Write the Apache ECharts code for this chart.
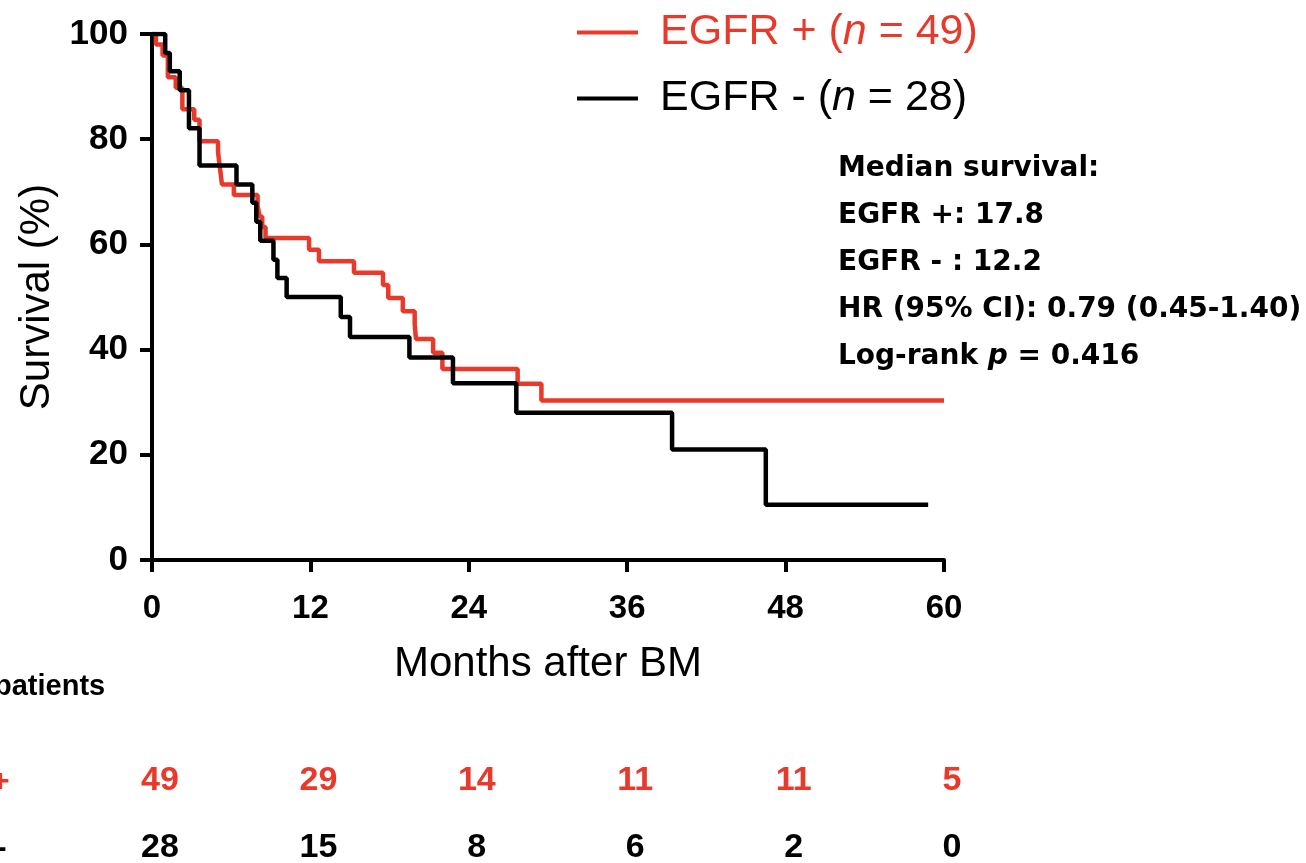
<!DOCTYPE html>
<html>
<head>
<meta charset="utf-8">
<script src="https://cdn.jsdelivr.net/npm/echarts@6/dist/echarts.min.js"></script>
<style>
html,body{margin:0;padding:0;background:#fff;}
#chart{width:1306px;height:863px;}
</style>
</head>
<body>
<div id="chart"></div>
<script>
// Kaplan-Meier curves: [months, survival %]
const egfrPos = [[0,100],[0.3,98.0],[0.8,95.9],[1.2,91.8],[1.8,89.8],[2.3,85.7],[3.2,83.7],[3.6,79.6],[5.0,77.6],[5.1,75.5],[5.2,73.5],[5.3,71.4],[6.2,69.4],[8.0,67.3],[8.15,65.3],[8.35,63.3],[8.6,61.2],[11.9,59.0],[12.65,56.8],[15.3,54.6],[17.5,52.3],[17.9,49.8],[19.0,47.3],[19.9,44.8],[20.0,42.0],[21.3,39.4],[22.0,36.3],[27.7,33.5],[29.5,30.3],[60,30.3]];
const egfrNeg = [[0,100],[1.0,96.4],[1.35,92.9],[2.1,89.3],[2.8,82.1],[3.6,75.0],[6.4,71.4],[7.6,67.9],[7.9,64.3],[8.2,60.7],[9.2,57.1],[9.5,53.6],[10.2,50.0],[14.3,46.2],[15.0,42.4],[19.5,38.5],[22.8,33.6],[27.6,28.0],[39.4,21.0],[46.5,10.5],[58.8,10.5]];
const riskMonths = [0,12,24,36,48,60];
const riskPos = [49,29,14,11,11,5];
const riskNeg = [28,15,8,6,2,0];
const riskRows = ['-','+'];
const yTicks = [0,20,40,60,80,100];
const xTicks = [0,12,24,36,48,60];
const annotation = ['Median survival:','EGFR +: 17.8','EGFR - : 12.2','HR (95% CI): 0.79 (0.45-1.40)'];

const RED = '#e8392b';
const BLACK = '#000000';
const FONT = 'Liberation Sans, Arial, Helvetica, sans-serif';
const WIDE = 'DejaVu Sans, Liberation Sans, sans-serif';
const NARROW = 'Liberation Sans Narrow, Liberation Sans, Arial, sans-serif';

const chart = echarts.init(document.getElementById('chart'), null, {renderer:'canvas'});

const annGraphics = annotation.map((t,i)=>({
  type:'text', left:838, top:155 + i*47,
  style:{text:t, font:'bold 28px '+WIDE, fill:BLACK}
}));
annGraphics.push({
  type:'text', left:838, top:155 + 4*47,
  style:{
    text:'{a|Log-rank }{i|p}{a| = 0.416}',
    rich:{
      a:{font:'bold 28px '+WIDE, fill:BLACK},
      i:{font:'italic bold 28px '+WIDE, fill:BLACK}
    }
  }
});

const option = {
  animation:false,
  backgroundColor:'#fff',
  grid:[
    {left:152, top:34, right:362, bottom:303, containLabel:false},
    {left:152, top:781, right:362, height:67, containLabel:false}
  ],
  legend:{
    data:[{name:'EGFR +'},{name:'EGFR -'}],
    orient:'vertical', left:572, top:6,
    itemWidth:61, itemHeight:4, itemGap:23,
    icon:'rect',
    formatter:function(name){
      return name==='EGFR +' ? '{tr|EGFR + (}{ir|n}{tr| = 49)}' : '{tb|EGFR - (}{ib|n}{tb| = 28)}';
    },
    textStyle:{
      padding:[0,0,0,17],
      rich:{
        tr:{fontFamily:FONT, fontSize:43, color:RED},
        ir:{fontFamily:FONT, fontSize:43, fontStyle:'italic', color:RED},
        tb:{fontFamily:FONT, fontSize:43, color:BLACK},
        ib:{fontFamily:FONT, fontSize:43, fontStyle:'italic', color:BLACK}
      }
    }
  },
  xAxis:[
    {gridIndex:0, type:'value', min:0, max:60, interval:12,
     name:'Months after BM', nameLocation:'middle', nameGap:83,
     nameTextStyle:{fontFamily:FONT, fontSize:42, color:BLACK},
     axisLine:{show:true, onZero:false, lineStyle:{color:BLACK, width:4}},
     axisTick:{show:true, length:12, lineStyle:{color:BLACK, width:4}},
     axisLabel:{fontFamily:NARROW, fontWeight:'bold', fontSize:33, color:BLACK, margin:32,
       formatter:function(v){return xTicks.indexOf(v)>=0?String(v):'';}},
     splitLine:{show:false}},
    {gridIndex:1, type:'value', min:0, max:60, interval:12, show:false}
  ],
  yAxis:[
    {gridIndex:0, type:'value', min:0, max:100, interval:20,
     name:'Survival (%)', nameLocation:'middle', nameGap:94, nameRotate:90,
     nameTextStyle:{fontFamily:FONT, fontSize:42, color:BLACK},
     axisLine:{show:true, lineStyle:{color:BLACK, width:4}},
     axisTick:{show:true, length:12, lineStyle:{color:BLACK, width:4}},
     axisLabel:{fontFamily:FONT, fontWeight:'bold', fontSize:35, color:BLACK, margin:24,
       formatter:function(v){return yTicks.indexOf(v)>=0?String(v):'';}},
     splitLine:{show:false}},
    {gridIndex:1, type:'category', data:riskRows, boundaryGap:false, show:false}
  ],
  series:[
    {name:'EGFR +', type:'line', xAxisIndex:0, yAxisIndex:0, step:'end',
     data:egfrPos, showSymbol:false, symbol:'none', color:RED,
     lineStyle:{color:RED, width:4.5}, z:2},
    {name:'EGFR -', type:'line', xAxisIndex:0, yAxisIndex:0, step:'end',
     data:egfrNeg, showSymbol:false, symbol:'none', color:BLACK,
     lineStyle:{color:BLACK, width:4.5}, z:3},
    {name:'riskPos', type:'scatter', xAxisIndex:1, yAxisIndex:1, symbolSize:1,
     itemStyle:{color:'rgba(0,0,0,0)', opacity:1}, silent:true,
     data:riskMonths.map((m,i)=>[m,'+',riskPos[i]]),
     label:{show:true, position:'inside', offset:[8,0], formatter:p=>String(p.value[2]),
       fontFamily:NARROW, fontWeight:'bold', fontSize:34, color:RED, textBorderWidth:0}},
    {name:'riskNeg', type:'scatter', xAxisIndex:1, yAxisIndex:1, symbolSize:1,
     itemStyle:{color:'rgba(0,0,0,0)', opacity:1}, silent:true,
     data:riskMonths.map((m,i)=>[m,'-',riskNeg[i]]),
     label:{show:true, position:'inside', offset:[8,0], formatter:p=>String(p.value[2]),
       fontFamily:NARROW, fontWeight:'bold', fontSize:34, color:BLACK, textBorderWidth:0}}
  ],
  graphic:[
    {type:'text', left:-6, top:672, style:{text:'patients', font:'bold 29px '+NARROW, fill:BLACK}},
    {type:'text', left:-9, top:766, style:{text:'+', font:'bold 32px '+NARROW, fill:RED}},
    {type:'text', left:-4, top:832, style:{text:'-', font:'bold 32px '+NARROW, fill:BLACK}}
  ].concat(annGraphics)
};
chart.setOption(option);
</script>
</body>
</html>
